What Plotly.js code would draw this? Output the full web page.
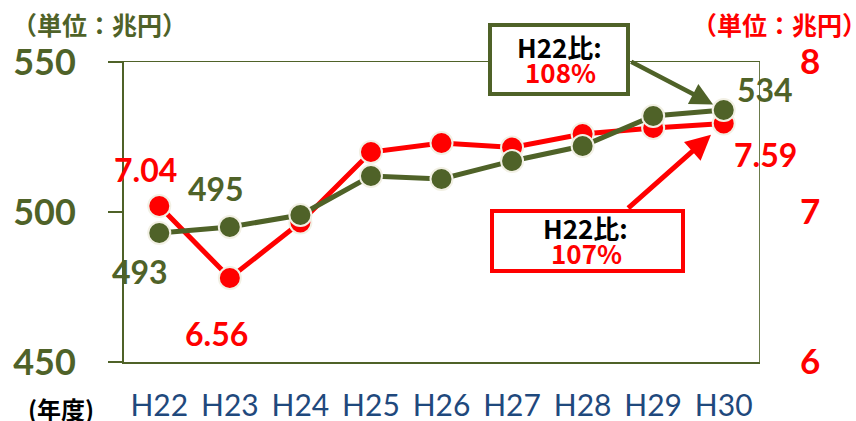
<!DOCTYPE html>
<html><head><meta charset="utf-8">
<script src="https://cdn.plot.ly/plotly-3.0.1.min.js"></script>
<style>html,body{margin:0;padding:0;background:#fff}#chart{width:856px;height:421px}</style>
</head><body><div id="chart"></div>
<script>
// data
const years = ['H22','H23','H24','H25','H26','H27','H28','H29','H30'];
const totalValues = [493, 495, 499, 512, 511, 517, 522, 532, 534];   // left axis (兆円)
const redValues = [7.04, 6.56, 6.93, 7.40, 7.46, 7.43, 7.52, 7.56, 7.59]; // right axis (兆円)
const leftTicks = [450, 500, 550];
const rightTicks = [6, 7, 8];
const greenRatio = '108%';
const redRatio = '107%';

const OLIVE = '#4F6228', RED = '#FF0000', CREAM = '#F2F0E4';
const LAT = 'Lato, "Noto Sans", sans-serif';
const JP = '"Noto Sans CJK JP", sans-serif';

const redTrace = {
  x: years, y: redValues, yaxis: 'y', type: 'scatter', mode: 'lines+markers',
  line: {color: RED, width: 5}, marker: {size: 22, color: RED, line: {color: CREAM, width: 2}},
  cliponaxis: false, hoverinfo: 'skip'
};
const greenTrace = {
  x: years, y: totalValues, yaxis: 'y2', type: 'scatter', mode: 'lines+markers',
  line: {color: OLIVE, width: 5}, marker: {size: 22, color: OLIVE, line: {color: CREAM, width: 2}},
  cliponaxis: false, hoverinfo: 'skip'
};

const last = years.length - 1;
function lbl(i, arr, yref, color, dx, dy, fmt) {
  return {x: years[i], y: arr[i], xref: 'x', yref: yref, text: fmt(arr[i]), showarrow: false,
    xanchor: 'center', yanchor: 'middle',
    xshift: dx, yshift: dy, font: {family: LAT, size: 32, color: color, weight: 'bold'}};
}
const g = v => String(v), r = v => v.toFixed(2);
const px = p => (p - 124) / 635, py = p => (362 - p) / 300;
function txt(x, y, t, size, color, weight) {
  return {xref: 'paper', yref: 'paper', x: px(x), y: py(y), text: t, showarrow: false, borderpad: 0,
    xanchor: 'center', yanchor: 'middle', font: {family: JP, size: size, color: color, weight: weight || 'normal'}};
}

const annotations = [
  lbl(0, redValues, 'y', RED, -14, 37, r),
  lbl(1, totalValues, 'y2', OLIVE, -14, 39, g),
  lbl(0, totalValues, 'y2', OLIVE, -19, -38, g),
  lbl(1, redValues, 'y', RED, -13, -55, r),
  lbl(last, totalValues, 'y2', OLIVE, 41, 21, g),
  lbl(last, redValues, 'y', RED, 42, -31, r),
  // arrows
  {x: years[last], y: totalValues[last], xref: 'x', yref: 'y2', text: '', showarrow: true,
   ax: -94, ay: -49, axref: 'pixel', ayref: 'pixel', arrowcolor: OLIVE, arrowwidth: 4.5, arrowhead: 2, arrowsize: 1, standoff: 12},
  {x: years[last], y: redValues[last], xref: 'x', yref: 'y', text: '', showarrow: true,
   ax: -97, ay: 86, axref: 'pixel', ayref: 'pixel', arrowcolor: RED, arrowwidth: 5, arrowhead: 2, arrowsize: 1, standoff: 17},
  // box texts
  txt(559.5, 46, 'H22比:', 26, '#000', 'bold'),
  txt(560, 71, greenRatio, 26, RED, 'bold'),
  txt(585, 227, 'H22比:', 26, '#000', 'bold'),
  txt(586.5, 252.5, redRatio, 26, RED, 'bold'),
  // unit labels
  txt(99, 24, '（単位：兆円）', 25, OLIVE, 'bold'),
  txt(779, 24, '（単位：兆円）', 25, RED, 'bold'),
  txt(61, 408, '(年度)', 24, '#000', 'bold')
];

const shapes = [
  {type: 'rect', xref: 'paper', yref: 'paper', x0: px(490), x1: px(628), y0: py(94), y1: py(25),
   line: {color: OLIVE, width: 4}, fillcolor: '#fff', layer: 'above'},
  {type: 'rect', xref: 'paper', yref: 'paper', x0: px(492), x1: px(683), y0: py(271), y1: py(211),
   line: {color: RED, width: 4}, fillcolor: '#fff', layer: 'above'}
];

const layout = {
  width: 856, height: 421,
  margin: {l: 124, r: 97, t: 62, b: 59},
  paper_bgcolor: '#fff', plot_bgcolor: '#fff',
  showlegend: false,
  xaxis: {type: 'category', range: [-0.5, 8.5], showgrid: false, zeroline: false,
    showline: true, mirror: true, linecolor: OLIVE, linewidth: 1.5, ticks: '',
    tickfont: {family: LAT, size: 30, color: '#1F497D'}, ticklabelstandoff: 16, fixedrange: true},
  yaxis: {side: 'right', range: [6, 8], tickvals: rightTicks, showgrid: false, zeroline: false,
    showline: true, linecolor: '#6B7B4B', linewidth: 1, ticks: '',
    tickfont: {family: LAT, size: 35, color: RED, weight: 'bold'}, ticklabelstandoff: 33},
  yaxis2: {overlaying: 'y', side: 'left', range: [450, 550], tickvals: leftTicks, showgrid: false, zeroline: false,
    showline: true, linecolor: OLIVE, linewidth: 2, ticks: 'outside', ticklen: 14, tickwidth: 1.5, tickcolor: OLIVE,
    tickfont: {family: LAT, size: 36, color: OLIVE, weight: 'bold'}, ticklabelstandoff: 25},
  annotations: annotations,
  shapes: shapes
};

Plotly.newPlot('chart', [redTrace, greenTrace], layout, {staticPlot: true});
</script></body></html>
